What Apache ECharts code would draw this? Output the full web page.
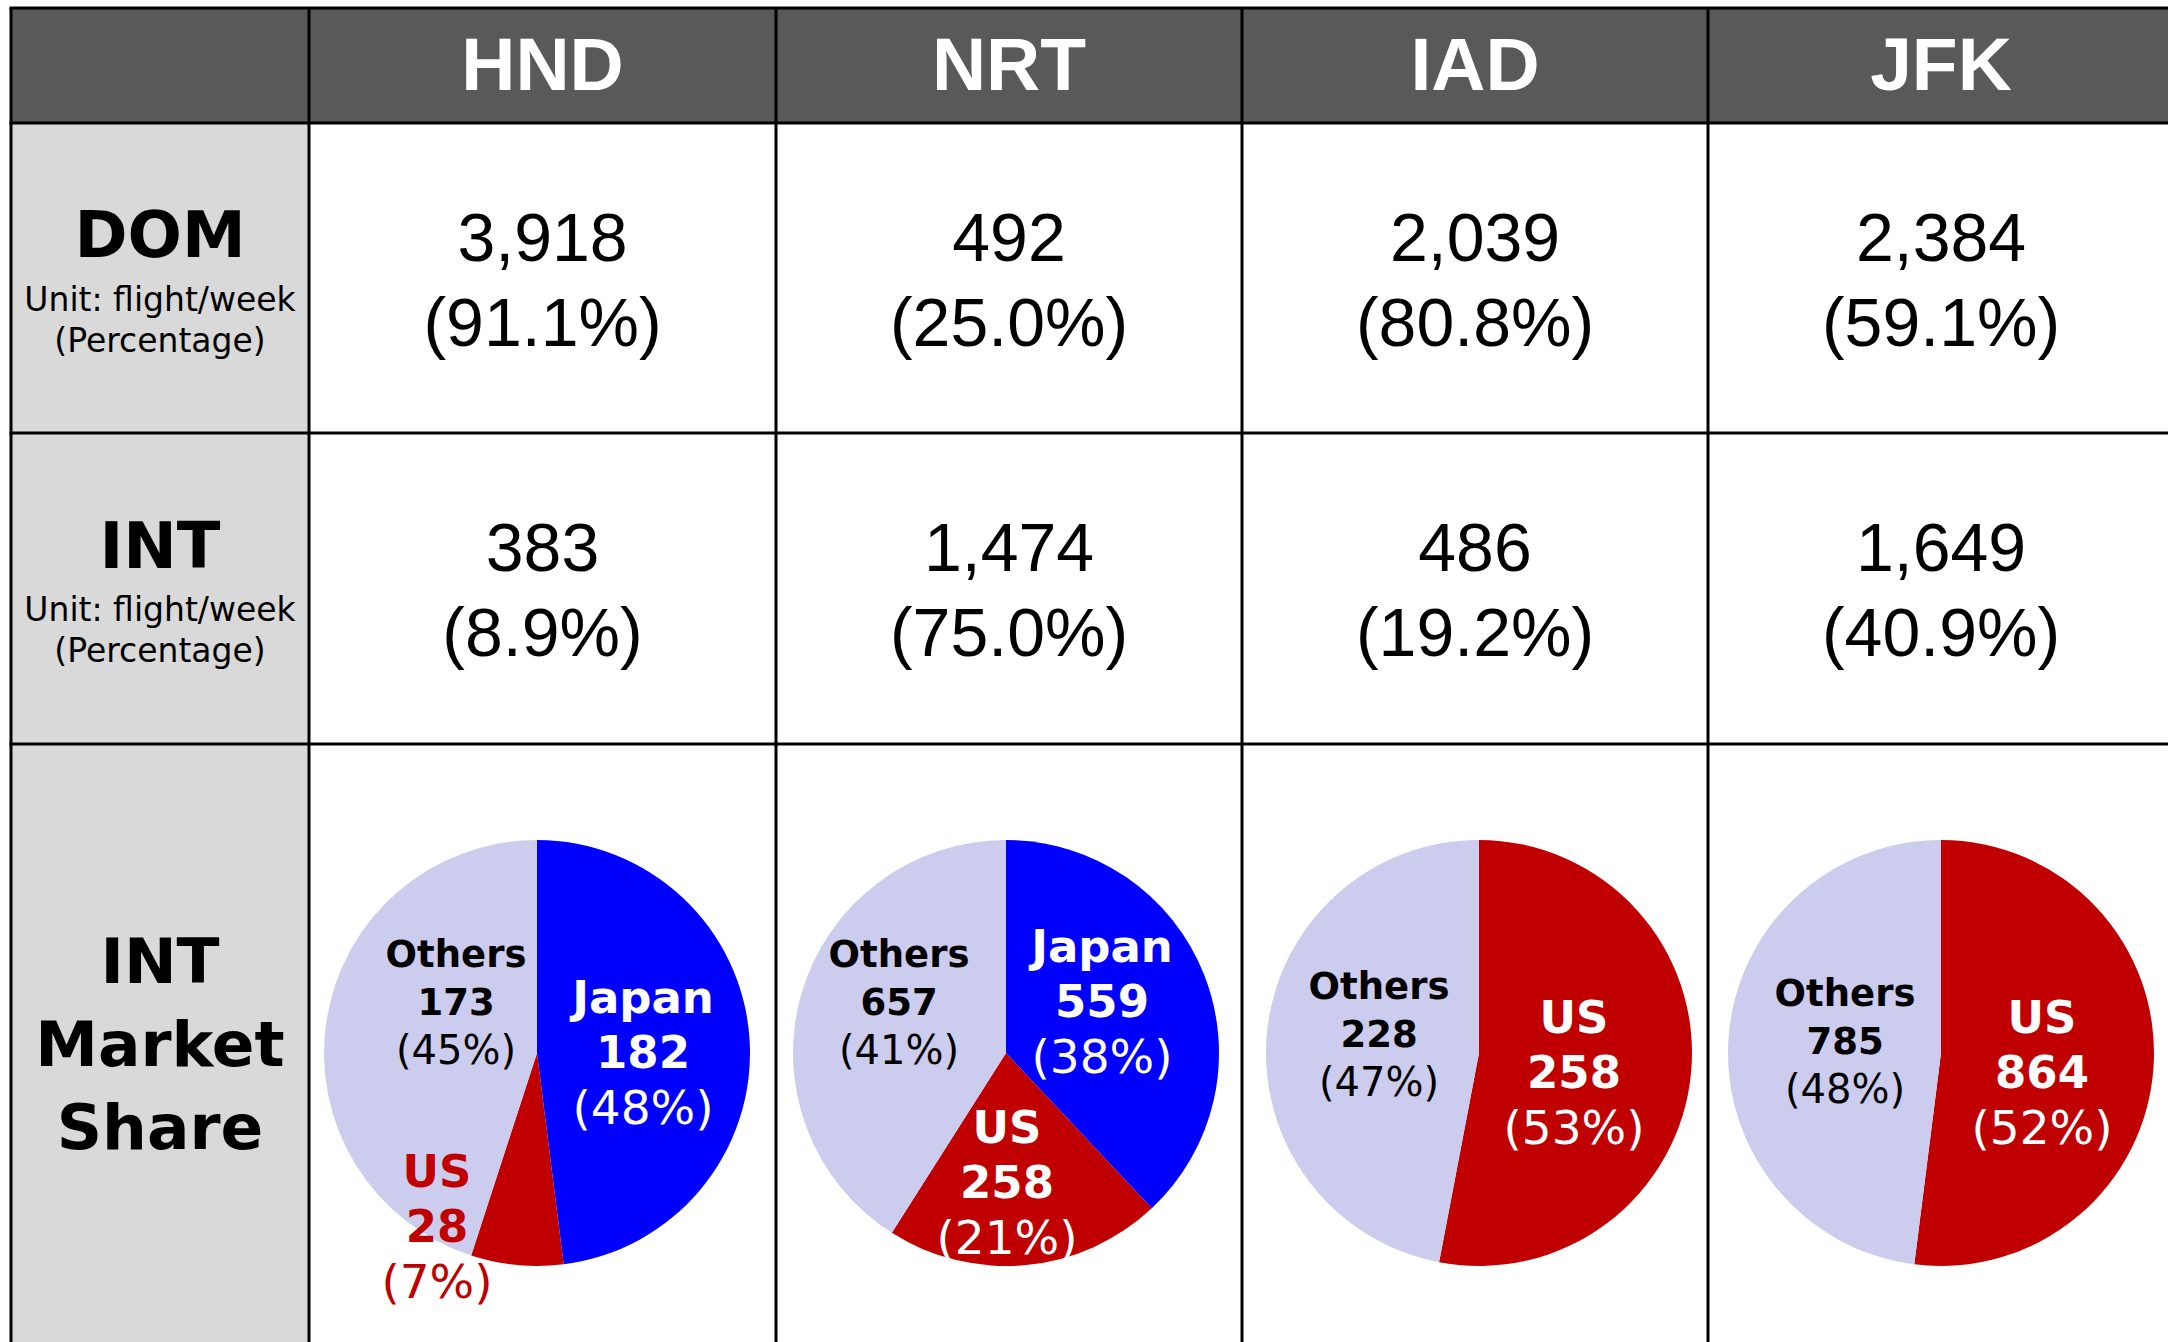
<!DOCTYPE html>
<html>
<head>
<meta charset="utf-8">
<title>HND NRT IAD JFK</title>
<script src="https://cdn.jsdelivr.net/npm/echarts@6/dist/echarts.min.js"></script>
<style>
  html, body { margin: 0; padding: 0; background: #fff; }
  #chart { width: 2168px; height: 1342px; }
</style>
</head>
<body>
<div id="chart"></div>
<script>
// data
const airports = ['HND', 'NRT', 'IAD', 'JFK']
const domFlights = [3918, 492, 2039, 2384]
const domShare = [91.1, 25.0, 80.8, 59.1]
const intFlights = [383, 1474, 486, 1649]
const intShare = [8.9, 75.0, 19.2, 40.9]

// INT market share by carrier nationality (null = no slice)
const japanFlights = [182, 559, null, null]
const japanShare = [48, 38, null, null]
const usFlights = [28, 258, 258, 864]
const usShare = [7, 21, 53, 52]
const othersFlights = [173, 657, 228, 785]
const othersShare = [45, 41, 47, 48]

// layout
const colX = [11, 309, 776, 1242, 1708, 2174]
const rowY = [8, 123, 433, 744, 1360]
const pieX = [537, 1006, 1479, 1941]
const pieY = 1053
const pieR = 213

// label offsets from the pie centre, per slice
const labelOffsets = [
  { Japan: [106, -1], US: [-100, 173], Others: [-81, -51] },
  { Japan: [96, -52], US: [1, 129], Others: [-107, -51] },
  { US: [95, 19], Others: [-100, -19] },
  { US: [101, 19], Others: [-96, -12] }
]

const COLORS = { Japan: '#0000ff', US: '#c00000', Others: '#ccccee' }
const SANS = '"DejaVu Sans", Verdana, sans-serif'
const ARIAL = '"Liberation Sans", Arial, sans-serif'

const fmt = v => v.toLocaleString('en-US')

const chart = echarts.init(document.getElementById('chart'), null, { renderer: 'svg' })

const colCenter = i => (colX[i] + colX[i + 1]) / 2
const elements = []

// backgrounds
elements.push({ type: 'rect', shape: { x: colX[0], y: rowY[0], width: colX[5] - colX[0], height: rowY[1] - rowY[0] }, style: { fill: '#595959' } })
elements.push({ type: 'rect', shape: { x: colX[0], y: rowY[1], width: colX[1] - colX[0], height: rowY[4] - rowY[1] }, style: { fill: '#d9d9d9' } })

// grid lines
rowY.slice(0, 4).forEach(y => {
  elements.push({ type: 'line', shape: { x1: colX[0] - 1.5, y1: y, x2: colX[5], y2: y }, style: { stroke: '#000', lineWidth: 3 } })
})
colX.slice(0, 5).forEach(x => {
  elements.push({ type: 'line', shape: { x1: x, y1: rowY[0], x2: x, y2: rowY[4] }, style: { stroke: '#000', lineWidth: 3 } })
})

function text(str, x, y, style) {
  elements.push({
    type: 'text',
    x, y,
    z: 10,
    style: Object.assign({ text: str, align: 'center', verticalAlign: 'middle', fill: '#000' }, style)
  })
}

// header
airports.forEach((a, i) => {
  text(a, colCenter(i + 1), 64, { fontFamily: ARIAL, fontWeight: 'bold', fontSize: 75, fill: '#fff' })
})

// row headers
text('DOM', colCenter(0), 235, { fontFamily: SANS, fontWeight: 'bold', fontSize: 64 })
text('Unit: flight/week\n(Percentage)', colCenter(0), 320, { fontFamily: SANS, fontSize: 33, lineHeight: 41 })
text('INT', colCenter(0), 546, { fontFamily: SANS, fontWeight: 'bold', fontSize: 64 })
text('Unit: flight/week\n(Percentage)', colCenter(0), 630, { fontFamily: SANS, fontSize: 33, lineHeight: 41 })
text('INT\nMarket\nShare', colCenter(0), 1044, { fontFamily: SANS, fontWeight: 'bold', fontSize: 63, lineHeight: 83 })

// DOM / INT cells
airports.forEach((a, i) => {
  text(fmt(domFlights[i]) + '\n(' + domShare[i].toFixed(1) + '%)', colCenter(i + 1), 279,
    { fontFamily: ARIAL, fontSize: 68, lineHeight: 85 })
  text(fmt(intFlights[i]) + '\n(' + intShare[i].toFixed(1) + '%)', colCenter(i + 1), 589,
    { fontFamily: ARIAL, fontSize: 68, lineHeight: 85 })
})

// pie labels
function sliceLabel(name, i) {
  let color = '#fff'
  if (name === 'Others') color = '#000'
  if (name === 'US' && i === 0) color = '#c00000' // small slice, label sits outside
  const big = name !== 'Others'
  return {
    show: true,
    position: 'inside',
    color,
    rich: {
      b: { fontFamily: SANS, fontWeight: 'bold', fontSize: big ? 45 : 37, lineHeight: big ? 55 : 48, color },
      p: { fontFamily: SANS, fontWeight: 'normal', fontSize: big ? 47 : 40, lineHeight: big ? 55 : 48, color }
    }
  }
}

const series = airports.map((a, i) => {
  const data = []
  if (japanShare[i] != null) {
    data.push({ name: 'Japan', value: japanShare[i], flights: japanFlights[i], itemStyle: { color: COLORS.Japan }, label: sliceLabel('Japan', i) })
  }
  data.push({ name: 'US', value: usShare[i], flights: usFlights[i], itemStyle: { color: COLORS.US }, label: sliceLabel('US', i) })
  data.push({ name: 'Others', value: othersShare[i], flights: othersFlights[i], itemStyle: { color: COLORS.Others }, label: sliceLabel('Others', i) })

  return {
    type: 'pie',
    name: a,
    center: [pieX[i], pieY],
    radius: [0, pieR],
    startAngle: 90,
    clockwise: true,
    silent: true,
    animation: false,
    avoidLabelOverlap: false,
    itemStyle: { borderWidth: 0 },
    labelLine: { show: false },
    emphasis: { disabled: true },
    label: {
      formatter: p => '{b|' + p.name + '}\n{b|' + fmt(p.data.flights) + '}\n{p|(' + p.value + '%)}'
    },
    // place each label where the original slide had it
    labelLayout: params => {
      const o = labelOffsets[i][data[params.dataIndex].name]
      return { x: pieX[i] + o[0], y: pieY + o[1], align: 'center', verticalAlign: 'middle' }
    },
    data
  }
})

chart.setOption({
  animation: false,
  graphic: { elements },
  series
})
</script>
</body>
</html>
